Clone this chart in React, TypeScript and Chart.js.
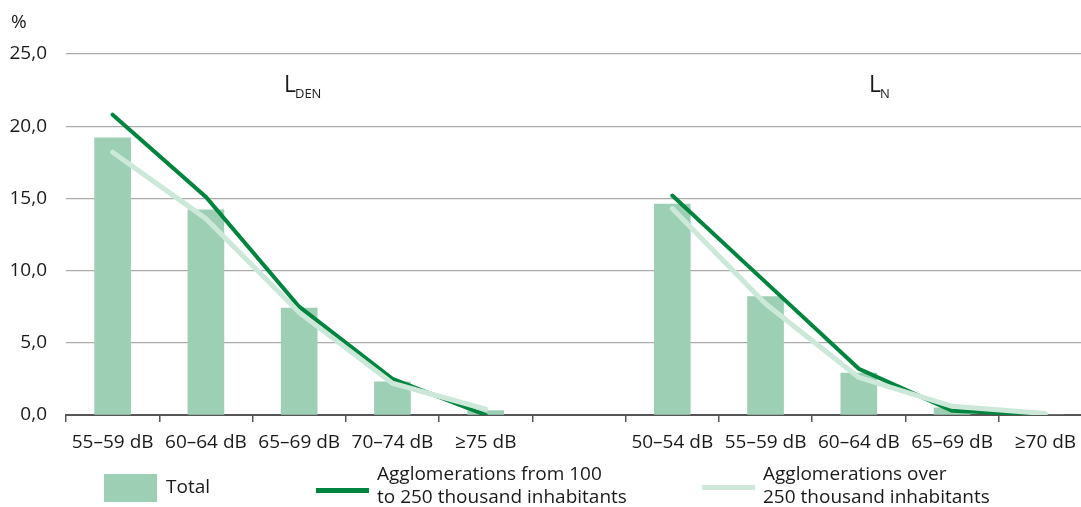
import React, { useEffect, useRef } from "react";
import { Chart, registerables } from "chart.js";

Chart.register(...registerables);

const categoriesLden = ["55–59 dB", "60–64 dB", "65–69 dB", "70–74 dB", "≥75 dB"];
const categoriesLn = ["50–54 dB", "55–59 dB", "60–64 dB", "65–69 dB", "≥70 dB"];

const totalLden = [19.2, 14.2, 7.4, 2.3, 0.3];
const totalLn = [14.6, 8.2, 2.9, 0.5, 0.0];

const mediumLden = [20.8, 15.1, 7.5, 2.5, 0.0];
const mediumLn = [15.2, 9.2, 3.2, 0.3, 0.0];

const largeLden = [18.2, 13.6, 7.1, 2.2, 0.4];
const largeLn = [14.3, 7.7, 2.6, 0.6, 0.1];

const yTicks = [0, 5, 10, 15, 20, 25];

const seriesNames = {
  total: "Total",
  medium: ["Agglomerations from 100", "to 250 thousand inhabitants"],
  large: ["Agglomerations over", "250 thousand inhabitants"],
};

const COLORS = {
  bar: "#9ccfb4",
  dark: "#00853e",
  light: "#cce8d9",
  text: "#1a1a1a",
  grid: "#ababab",
  axis: "#555555",
};

const FONT = "'Open Sans', 'Noto Sans', sans-serif";

const labels = [...categoriesLden, "", ...categoriesLn];

const overlayPlugin = {
  id: "overlayText",
  afterDraw(chart: any) {
    const ctx = chart.ctx;
    const x = chart.scales.x;
    ctx.save();
    ctx.fillStyle = COLORS.text;
    ctx.textBaseline = "alphabetic";
    ctx.textAlign = "left";
    // % unit label
    ctx.font = `19px ${FONT}`;
    ctx.fillText("%", 11, 28);

    const drawSub = (main: string, sub: string, cx: number) => {
      ctx.font = `23px ${FONT}`;
      const w1 = ctx.measureText(main).width;
      ctx.font = `13px ${FONT}`;
      const w2 = ctx.measureText(sub).width;
      const start = cx - (w1 + w2) / 2;
      ctx.font = `23px ${FONT}`;
      ctx.fillText(main, start, 92);
      ctx.font = `13px ${FONT}`;
      ctx.fillText(sub, start + w1 - 1, 97.5);
    };
    drawSub("L", "DEN", x.getPixelForValue(2) + 4);
    drawSub("L", "N", x.getPixelForValue(8) + 21);
    ctx.restore();
  },
};

export default function App() {
  const ref = useRef<HTMLCanvasElement | null>(null);

  useEffect(() => {
    if (!ref.current) return;
    const chart = new Chart(ref.current, {
      type: "bar",
      data: {
        labels,
        datasets: [
          {
            type: "line",
            label: seriesNames.large.join(" "),
            data: [...largeLden, null, ...largeLn],
            borderColor: COLORS.light,
            backgroundColor: COLORS.light,
            borderWidth: 5,
            pointRadius: 0,
            borderCapStyle: "round",
            borderJoinStyle: "round",
            spanGaps: false,
            order: 1,
          } as any,
          {
            type: "line",
            label: seriesNames.medium.join(" "),
            data: [...mediumLden, null, ...mediumLn],
            borderColor: COLORS.dark,
            backgroundColor: COLORS.dark,
            borderWidth: 4,
            pointRadius: 0,
            borderCapStyle: "round",
            borderJoinStyle: "miter",
            spanGaps: false,
            order: 2,
          } as any,
          {
            type: "bar",
            label: seriesNames.total,
            data: [...totalLden, null, ...totalLn],
            backgroundColor: COLORS.bar,
            barThickness: 36,
            order: 3,
          } as any,
        ],
      },
      options: {
        responsive: false,
        animation: false,
        layout: { padding: { top: 54, right: 0, bottom: 0, left: 0 } },
        plugins: {
          legend: { display: false },
          tooltip: { enabled: false },
        },
        scales: {
          x: {
            grid: {
              display: true,
              drawOnChartArea: false,
              drawTicks: true,
              tickLength: 7,
              color: COLORS.axis,
              lineWidth: 1.5,
              offset: true,
            },
            border: { display: true, color: COLORS.axis, width: 2 },
            ticks: {
              color: COLORS.text,
              font: { family: FONT, size: 19 },
              padding: 9,
              maxRotation: 0,
              autoSkip: false,
            },
            afterFit: (s: any) => {
              s.height = 92;
            },
          },
          y: {
            min: 0,
            max: 25,
            afterBuildTicks: (s: any) => {
              s.ticks = yTicks.map((v) => ({ value: v }));
            },
            ticks: {
              color: COLORS.text,
              font: { family: FONT, size: 19 },
              padding: 19,
              callback: (v: any) => Number(v).toFixed(1).replace(".", ","),
            },
            grid: { color: COLORS.grid, lineWidth: 1.2, drawTicks: false },
            border: { display: false },
            afterFit: (s: any) => {
              s.width = 66;
            },
          },
        },
      },
      plugins: [overlayPlugin],
    });
    return () => chart.destroy();
  }, []);

  const textStyle: React.CSSProperties = {
    position: "absolute",
    fontFamily: FONT,
    fontSize: 19,
    lineHeight: "23px",
    color: COLORS.text,
    whiteSpace: "nowrap",
  };

  return (
    <div
      style={{
        position: "fixed",
        left: 0,
        top: 0,
        width: 1081,
        height: 507,
        overflow: "hidden",
        background: "#fff",
      }}
    >
      <canvas ref={ref} width={1092} height={507} style={{ position: "absolute", left: 0, top: 0 }} />
      <div style={{ position: "absolute", left: 104, top: 474, width: 53, height: 28, background: COLORS.bar }} />
      <div style={{ ...textStyle, left: 166, top: 475 }}>{seriesNames.total}</div>
      <div style={{ position: "absolute", left: 316, top: 488, width: 53, height: 5, background: COLORS.dark }} />
      <div style={{ ...textStyle, left: 377, top: 462 }}>
        {seriesNames.medium[0]}
        <br />
        {seriesNames.medium[1]}
      </div>
      <div style={{ position: "absolute", left: 702, top: 485, width: 53, height: 5, background: COLORS.light }} />
      <div style={{ ...textStyle, left: 763, top: 462 }}>
        {seriesNames.large[0]}
        <br />
        {seriesNames.large[1]}
      </div>
    </div>
  );
}
